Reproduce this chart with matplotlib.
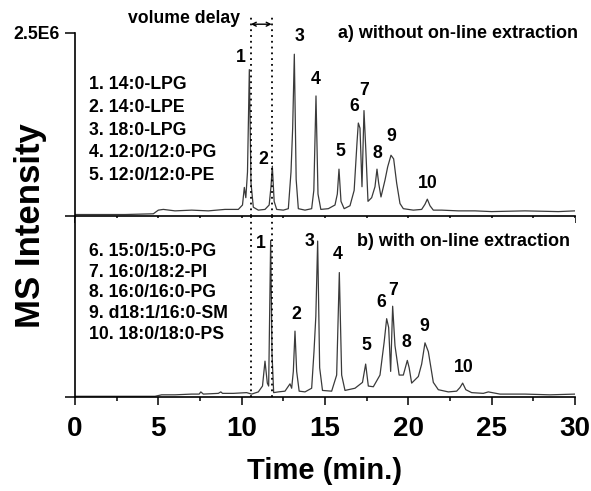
import numpy as np
import matplotlib.pyplot as plt

plt.rcParams['font.family'] = ['Liberation Sans', 'DejaVu Sans']
plt.rcParams['font.weight'] = 'bold'

# trace a) without on-line extraction (time in min, intensity in 1E6 counts)
top_t = [0, 1.5, 3.0, 4.7, 5.0, 5.3, 6.0, 7.0, 8.0, 9.0,
         9.8, 10.05, 10.16, 10.25, 10.35, 10.46, 10.56, 10.7, 11.0, 11.4,
         11.65, 11.76, 11.84, 11.95, 12.1, 12.5, 12.8, 12.96, 13.06, 13.16,
         13.27, 13.4, 13.8, 14.2, 14.33, 14.46, 14.58, 14.75, 15.2, 15.6,
         15.74, 15.84, 15.96, 16.15, 16.5, 16.75, 16.92, 17.0, 17.1, 17.22,
         17.34, 17.45, 17.58, 17.8, 18.0, 18.12, 18.22, 18.36, 18.6, 18.76,
         18.96, 19.12, 19.3, 19.5, 19.7, 20.3, 20.8, 21.0, 21.14, 21.3,
         21.5, 22.0, 23.0, 24.0, 25.0, 27.0, 29.0, 30.0]
top_i = [0.02, 0.02, 0.02, 0.03, 0.08, 0.09, 0.07, 0.08, 0.07, 0.09,
         0.09, 0.15, 0.39, 0.25, 0.6, 2.0, 0.45, 0.12, 0.08, 0.09,
         0.15, 0.4, 0.68, 0.2, 0.09, 0.08, 0.1, 0.6, 1.2, 2.21,
         0.5, 0.1, 0.08, 0.1, 0.35, 1.64, 0.3, 0.09, 0.1, 0.15,
         0.3, 0.64, 0.2, 0.1, 0.14, 0.35, 1.0, 1.27, 1.2, 0.4,
         1.44, 0.9, 0.2, 0.25, 0.4, 0.64, 0.45, 0.26, 0.49, 0.67,
         0.83, 0.78, 0.45, 0.17, 0.1, 0.08, 0.09, 0.16, 0.23, 0.14,
         0.08, 0.08, 0.07, 0.07, 0.06, 0.07, 0.06, 0.07]

# trace b) with on-line extraction
bot_t = [0, 2.0, 4.8, 5.2, 6.0, 7.0, 7.45, 7.55, 7.7, 8.6,
         8.75, 8.85, 9.5, 10.3, 10.6, 11.0, 11.25, 11.4, 11.54, 11.62,
         11.74, 11.82, 11.92, 12.2, 12.6, 12.9, 13.0, 13.1, 13.2, 13.3,
         13.45, 13.8, 14.2, 14.34, 14.45, 14.56, 14.68, 14.85, 15.4, 15.7,
         15.86, 16.0, 16.2, 16.8, 17.25, 17.44, 17.6, 17.9, 18.3, 18.55,
         18.7, 18.82, 18.94, 19.06, 19.2, 19.45, 19.7, 19.94, 20.05, 20.2,
         20.6, 20.8, 21.0, 21.2, 21.5, 21.8, 22.4, 22.9, 23.1, 23.26,
         23.45, 23.8, 24.5, 24.8, 25.5, 27.0, 28.5, 30.0]
bot_i = [0.01, 0.01, 0.01, 0.03, 0.03, 0.04, 0.04, 0.07, 0.04, 0.05,
         0.07, 0.05, 0.05, 0.06, 0.04, 0.07, 0.15, 0.49, 0.19, 0.15,
         2.14, 0.6, 0.06, 0.07, 0.08, 0.18, 0.12, 0.35, 0.9, 0.35,
         0.08, 0.07, 0.12, 0.62, 1.1, 2.13, 0.4, 0.09, 0.08, 0.3,
         1.7, 0.3, 0.09, 0.12, 0.2, 0.45, 0.15, 0.14, 0.3, 0.75,
         1.07, 0.95, 0.35, 1.24, 0.7, 0.3, 0.3, 0.5, 0.4, 0.19,
         0.28, 0.45, 0.74, 0.62, 0.2, 0.1, 0.07, 0.08, 0.13, 0.19,
         0.1, 0.06, 0.05, 0.07, 0.04, 0.04, 0.03, 0.04]

peak_names = ['1', '2', '3', '4', '5', '6', '7', '8', '9', '10']
# where the peak numbers sit (time, intensity)
top_lbl_t = [9.96, 11.30, 13.44, 14.46, 15.9, 16.74, 17.36, 18.16, 18.96, 21.16]
top_lbl_i = [2.17, 0.77, 2.45, 1.86, 0.88, 1.49, 1.72, 0.85, 1.08, 0.45]
bot_lbl_t = [11.16, 13.30, 14.04, 15.76, 17.46, 18.4, 19.06, 19.9, 20.96, 23.3]
bot_lbl_i = [2.10, 1.13, 2.12, 1.94, 0.70, 1.29, 1.46, 0.75, 0.96, 0.41]

compounds_a = ['1. 14:0-LPG', '2. 14:0-LPE', '3. 18:0-LPG',
               '4. 12:0/12:0-PG', '5. 12:0/12:0-PE']
compounds_b = ['6. 15:0/15:0-PG', '7. 16:0/18:2-PI', '8. 16:0/16:0-PG',
               '9. d18:1/16:0-SM', '10. 18:0/18:0-PS']

delay_start, delay_end = 10.55, 11.8

fig = plt.figure(figsize=(5.91, 4.91), dpi=100)
ax1 = fig.add_axes([0.1269, 0.5601, 0.846, 0.3727])
ax2 = fig.add_axes([0.1269, 0.1914, 0.846, 0.3646])

line_kw = dict(color='#3a3a3a', lw=0.9)
ax1.plot(top_t, top_i, **line_kw)
ax2.plot(bot_t, bot_i, **line_kw)

ax1.set_ylim(0, 2.5)
ax2.set_ylim(0, 2.445)
for ax in (ax1, ax2):
    ax.set_xlim(0, 30)
    ax.spines['top'].set_visible(False)
    ax.spines['right'].set_visible(False)
    for s in ('left', 'bottom'):
        ax.spines[s].set_linewidth(1.2)

ax1.set_xticks(np.arange(0, 30.1, 2.5))
ax1.tick_params(axis='x', labelbottom=False, length=5, width=1.1)
ax1.set_yticks([0, 2.5])
ax1.set_yticklabels(['', '2.5E6'], fontsize=12.7, fontweight='bold')
ax1.tick_params(axis='y', length=7, width=1.1, pad=4)

ax2.set_xticks(np.arange(0, 30.1, 5))
ax2.set_xticks(np.arange(0, 30.1, 2.5), minor=True)
ax2.tick_params(axis='x', which='major', length=5.5, width=1.1, labelsize=20, pad=8)
ax2.tick_params(axis='x', which='minor', length=3, width=1.1)
ax2.set_yticks([0])
ax2.set_yticklabels([''])
ax2.tick_params(axis='y', length=7, width=1.1)
for lab in ax2.get_xticklabels():
    lab.set_fontweight('bold')
ax2.set_xlabel('Time (min.)', fontsize=21, fontweight='bold', labelpad=11)

fig.text(0.052, 0.54, 'MS Intensity', rotation=90, ha='center', va='center',
         fontsize=25, fontweight='bold')

# peak numbers
for name, x, y in zip(peak_names, top_lbl_t, top_lbl_i):
    ax1.text(x, y, name, ha='center', va='center', fontsize=12.7, fontweight='bold')
for name, x, y in zip(peak_names, bot_lbl_t, bot_lbl_i):
    ax2.text(x, y, name, ha='center', va='center', fontsize=12.7, fontweight='bold')

# compound lists
for k, txt in enumerate(compounds_a):
    ax1.text(0.84, 1.80 - k * 0.313, txt, ha='left', va='center',
             fontsize=12.7, fontweight='bold')
for k, txt in enumerate(compounds_b):
    ax2.text(0.84, 1.99 - k * 0.283, txt, ha='left', va='center',
             fontsize=12.7, fontweight='bold')

ax1.text(30.2, 2.49, 'a) without on-line extraction', ha='right', va='center',
         fontsize=13, fontweight='bold', clip_on=False)
ax2.text(29.7, 2.12, 'b) with on-line extraction', ha='right', va='center',
         fontsize=13, fontweight='bold')

# volume delay markers
dot_kw = dict(color='black', lw=1.3, ls=(0, (1, 2.2)), clip_on=False)
for x in (delay_start, delay_end):
    ax1.plot([x, x], [0, 2.76], **dot_kw)
    ax2.plot([x, x], [0, 2.47], **dot_kw)
ax1.annotate('', xy=(delay_start, 2.62), xytext=(delay_end, 2.62),
             arrowprops=dict(arrowstyle='<->', color='black', lw=1.0,
                             mutation_scale=7, shrinkA=0, shrinkB=0),
             annotation_clip=False)
ax1.text(9.9, 2.70, 'volume delay', ha='right', va='center',
         fontsize=12.7, fontweight='bold', clip_on=False)

fig.savefig('out.png', dpi=100)
plt.close(fig)
